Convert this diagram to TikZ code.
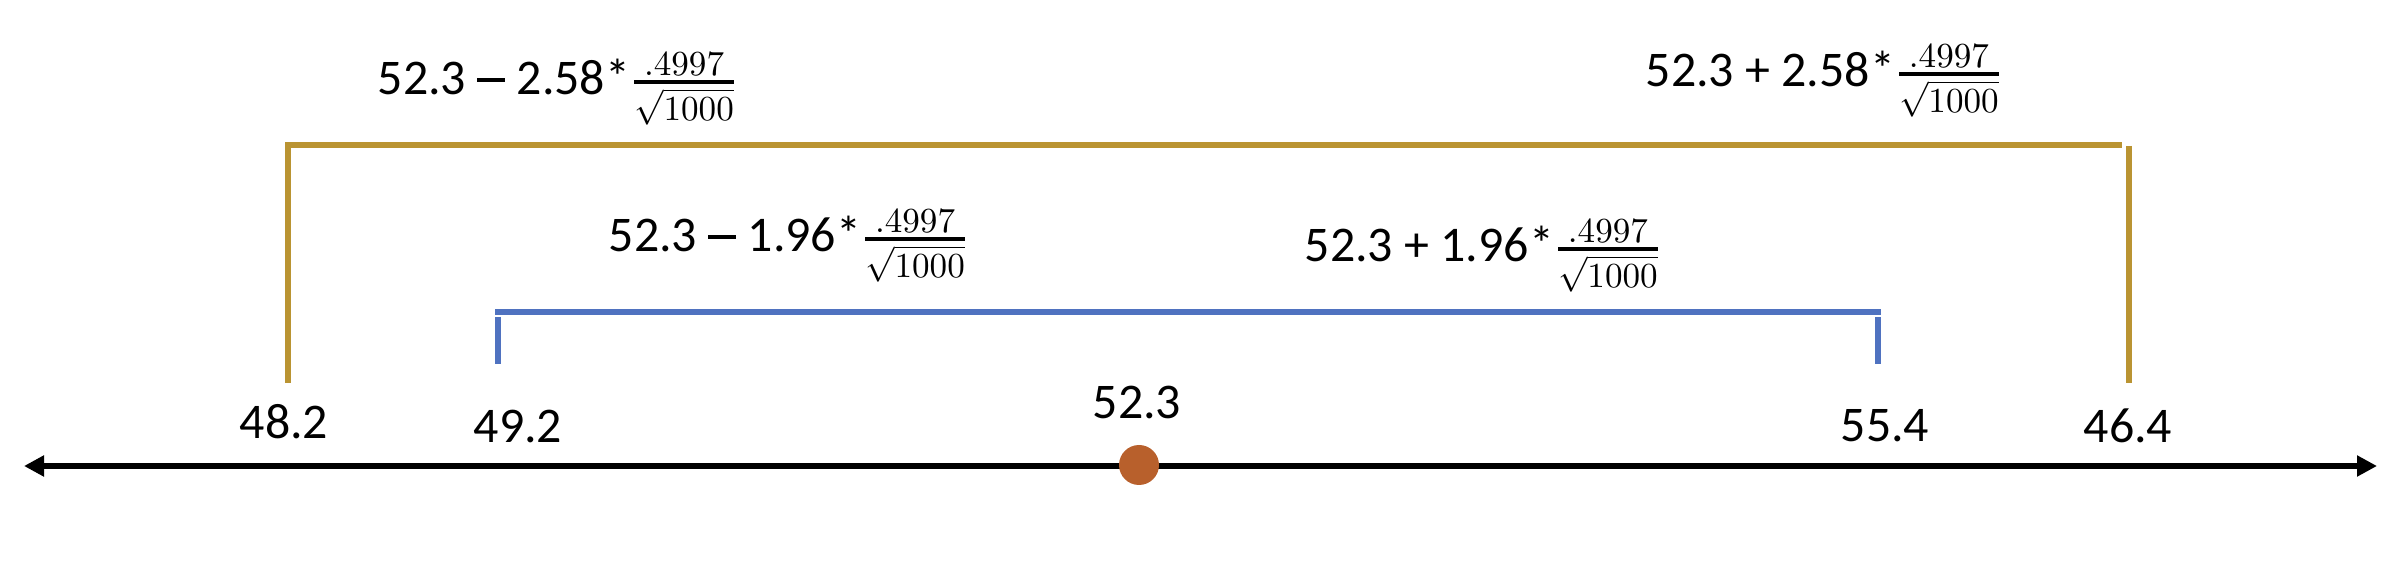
\documentclass[tikz,border=0pt]{standalone}
\usepackage{amsmath}
\usepackage[no-math]{fontspec}
\setmainfont{Carlito}
\usetikzlibrary{arrows.meta}
\DeclareMathSizes{14.2}{14.2}{10.2}{7.5}
\definecolor{goldc}{RGB}{186,148,50}
\definecolor{bluec}{RGB}{79,114,192}
\definecolor{dotc}{RGB}{184,96,44}
\newcommand{\myfrac}{$\genfrac{}{}{1.2pt}{1}{.4997}{\sqrt{1000}}$}
\newcommand{\mydash}{\rule[0.27em]{0.56em}{0.07em}}
\begin{document}
\begin{tikzpicture}[x=0.1mm,y=-0.1mm,
  font=\fontsize{14.2}{17}\selectfont,
  lbl/.style={inner sep=0pt, anchor=base},
  formula/.style={inner sep=0pt, anchor=base west},
  goldline/.style={draw=goldc, line width=1.7pt},
  blueline/.style={draw=bluec, line width=1.7pt},
  axisline/.style={draw=black, line width=1.95pt,
    {Triangle[length=2mm,width=2mm]}-{Triangle[length=2mm,width=2mm]}},
  meandot/.style={circle, fill=dotc, inner sep=0pt, minimum size=4mm}]
\useasboundingbox (0,0) rectangle (2400,572);

% axis
\coordinate (axL) at (24,466);
\coordinate (axR) at (2377,466);
\draw[axisline] (axL) -- (axR);
\node[meandot] (mean) at (1139,465) {};

% gold (99%) interval
\coordinate (gL1) at (288,383);
\coordinate (gL2) at (288,145);
\coordinate (gR1) at (2122,145);
\coordinate (gR2) at (2129,146);
\coordinate (gR3) at (2129,383);
\draw[goldline] (gL1) -- (gL2) -- (gR1);
\draw[goldline] (gR2) -- (gR3);

% blue (95%) interval
\coordinate (bH1) at (495,312);
\coordinate (bH2) at (1881,312);
\coordinate (bL1) at (498,317);
\coordinate (bL2) at (498,364);
\coordinate (bR1) at (1878,317);
\coordinate (bR2) at (1878,364);
\draw[blueline] (bH1) -- (bH2);
\draw[blueline] (bL1) -- (bL2);
\draw[blueline] (bR1) -- (bR2);

% value labels
\node[lbl] (v482) at (284,439) {48.2};
\node[lbl] (v492) at (518,443) {49.2};
\node[lbl] (v523) at (1137,419) {52.3};
\node[lbl] (v554) at (1885,442) {55.4};
\node[lbl] (v464) at (2128,443) {46.4};

% formulas
\node[formula] (fTL) at (377,95) {52.3 \mydash{} 2.58*\myfrac};
\node[formula] (fTR) at (1645,87) {52.3 + 2.58*\myfrac};
\node[formula] (fML) at (608,252) {52.3 \mydash{} 1.96*\myfrac};
\node[formula] (fMR) at (1304,262) {52.3 + 1.96*\myfrac};
\end{tikzpicture}
\end{document}
